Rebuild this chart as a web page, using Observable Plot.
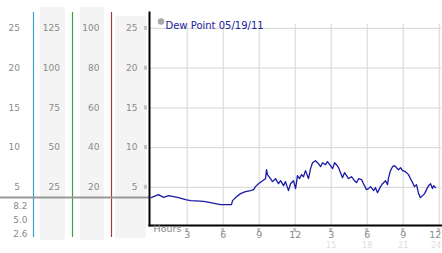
<!DOCTYPE html>
<html>
<head>
<meta charset="utf-8">
<script src="https://cdn.jsdelivr.net/npm/d3@7"></script>
<script src="https://cdn.jsdelivr.net/npm/@observablehq/plot@0.6"></script>
<style>
  html, body { margin: 0; padding: 0; background: #fff; }
  #chart svg { display: block; }
</style>
</head>
<body>
<div id="chart"></div>
<script>
// ---- data ----
const hours = [0, 0.61, 1.03, 1.44, 2.28, 2.86, 3.28, 4.11, 4.53, 4.94, 5.36, 5.78, 6.19, 6.69, 6.78, 7.03, 7.44, 7.86, 8.28, 8.53, 8.69, 8.94, 9.28, 9.53, 9.61, 9.69, 9.94, 10.11, 10.36, 10.61, 10.78, 11.03, 11.19, 11.44, 11.61, 11.86, 12.03, 12.19, 12.36, 12.53, 12.69, 12.86, 13.11, 13.28, 13.44, 13.69, 13.94, 14.11, 14.28, 14.53, 14.69, 14.94, 15.11, 15.28, 15.44, 15.61, 15.78, 15.94, 16.11, 16.28, 16.44, 16.69, 16.94, 17.11, 17.28, 17.53, 17.69, 17.94, 18.11, 18.28, 18.53, 18.69, 18.86, 19.11, 19.28, 19.53, 19.69, 19.78, 19.94, 20.11, 20.28, 20.44, 20.61, 20.78, 20.94, 21.19, 21.44, 21.61, 21.78, 21.94, 22.11, 22.28, 22.44, 22.61, 22.78, 22.94, 23.11, 23.28, 23.44, 23.53, 23.69];
const dewPoint = [3.7, 4.08, 3.74, 3.96, 3.71, 3.45, 3.33, 3.27, 3.2, 3.08, 2.95, 2.83, 2.83, 2.83, 3.33, 3.71, 4.21, 4.46, 4.59, 4.71, 5.09, 5.46, 5.84, 6.09, 7.22, 6.6, 6.09, 5.72, 6.09, 5.46, 5.84, 5.21, 5.72, 4.59, 5.46, 5.84, 4.84, 6.47, 6.09, 6.6, 6.34, 7.1, 6.09, 7.35, 8.1, 8.35, 7.98, 7.6, 8.1, 7.85, 8.23, 7.73, 7.35, 8.1, 7.85, 7.47, 6.85, 6.22, 6.85, 6.47, 6.09, 6.34, 5.84, 5.59, 6.09, 5.97, 5.46, 4.71, 4.84, 5.09, 4.59, 4.96, 4.33, 5.09, 5.46, 5.84, 5.34, 6.22, 7.1, 7.6, 7.73, 7.47, 7.22, 7.47, 7.1, 6.97, 6.6, 6.09, 5.59, 5.09, 5.34, 4.21, 3.71, 3.96, 4.21, 4.71, 5.21, 5.46, 4.84, 5.21, 4.96];

const yTicks = [25, 20, 15, 10, 5];
const col1Labels = ["25", "20", "15", "10", "5"];
const col1Extra = ["8.2", "5.0", "2.6"];
const col2Labels = ["125", "100", "75", "50", "25"];
const col3Labels = ["100", "80", "60", "40", "20"];
const col4Labels = ["25", "20", "15", "10", "5"];
const markerValue = 3.7;

const xTicks = [3, 6, 9, 12, 15, 18, 21, 24];
const xTickLabels = ["3", "6", "9", "12", "3", "6", "9", "12"];
const xTicks2 = [15, 18, 21, 24];
const xTickLabels2 = ["15", "18", "21", "24"];
const seriesName = "Dew Point 05/19/11";

const data = hours.map((h, i) => ({h, v: dewPoint[i]}));

const FONT = "DejaVu Sans, Verdana, sans-serif";
const LABEL = "#8a8a8a";

// left-side scale panels drawn via the y scale
function leftPanels(index, scales, values, dims) {
  const y = scales.y;
  const g = d3.create("svg:g").attr("font-family", FONT).attr("font-size", 9);
  [[40, 7, 25, 233], [80, 7, 24, 233], [115, 16, 31, 222]].forEach(([x, yy, w, h]) =>
    g.append("rect").attr("x", x).attr("y", yy).attr("width", w).attr("height", h).attr("fill", "#f4f4f4"));
  [[33.5, "#3ba3c6"], [72.5, "#3f9f3f"], [111.5, "#a83a3a"]].forEach(([x, c]) =>
    g.append("line").attr("x1", x).attr("x2", x).attr("y1", 12).attr("y2", 237).attr("stroke", c).attr("stroke-width", 1.2));
  const my = Math.round(y(markerValue)) + 0.5;
  g.append("line").attr("x1", 0).attr("x2", 149).attr("y1", my).attr("y2", my)
    .attr("stroke", "#999").attr("stroke-width", 2);
  const cols = [[20, col1Labels], [60, col2Labels], [99.5, col3Labels], [137.5, col4Labels]];
  cols.forEach(([x, labs]) => {
    yTicks.forEach((t, i) => {
      g.append("text").attr("x", x).attr("y", y(t)).attr("dy", "0.35em")
        .attr("text-anchor", "end").attr("fill", LABEL).text(labs[i]);
    });
  });
  col1Extra.forEach((s, i) => {
    g.append("text").attr("x", 27.5).attr("y", my + 8 + i * 14).attr("dy", "0.35em")
      .attr("text-anchor", "end").attr("fill", LABEL).text(s);
  });
  yTicks.forEach(t => {
    g.append("rect").attr("x", 144).attr("y", y(t) - 2).attr("width", 3).attr("height", 4)
      .attr("fill", "#c4c4c4");
  });
  xTicks.forEach(t => {
    g.append("rect").attr("x", scales.x(t) - 1.5).attr("y", 228).attr("width", 3).attr("height", 4)
      .attr("fill", "#c4c4c4");
  });
  return g.node();
}

const lastTick = xTicks.length - 1;
const lastTick2 = xTicks2.length - 1;

const chart = Plot.plot({
  width: 442,
  height: 253,
  marginLeft: 149,
  marginRight: 1,
  marginTop: 12,
  marginBottom: 28,
  style: {fontFamily: FONT, fontSize: "9px", background: "#fff"},
  x: {domain: [-0.14, 24.19], axis: null},
  y: {domain: [0.2, 27], axis: null},
  marks: [
    leftPanels,
    Plot.ruleY(yTicks, {stroke: "#dcdcdc", strokeWidth: 1.2}),
    Plot.ruleX(xTicks, {y1: 0.2, y2: 25.5, stroke: "#dcdcdc", strokeWidth: 1.2}),
    Plot.line(data, {x: "h", y: "v", stroke: "#1a1aa6", strokeWidth: 1.3}),
    Plot.frame({anchor: "left", stroke: "#000", strokeWidth: 2}),
    Plot.frame({anchor: "bottom", stroke: "#000", strokeWidth: 2}),
    Plot.text(xTicks.slice(0, lastTick), {x: d => d, text: (d, i) => xTickLabels[i], frameAnchor: "bottom", dy: 12, fill: LABEL, fontSize: 9.5}),
    Plot.text([xTicks[lastTick]], {x: d => d, text: [xTickLabels[lastTick]], frameAnchor: "bottom", dy: 12, dx: 2, textAnchor: "end", fill: LABEL, fontSize: 9.5}),
    Plot.text(xTicks2.slice(0, lastTick2), {x: d => d, text: (d, i) => xTickLabels2[i], frameAnchor: "bottom", dy: 22.5, fill: "#dedede", fontSize: 8}),
    Plot.text([xTicks2[lastTick2]], {x: d => d, text: [xTickLabels2[lastTick2]], frameAnchor: "bottom", dy: 22.5, dx: 2, textAnchor: "end", fill: "#dedede", fontSize: 8}),
    Plot.text(["Hours"], {frameAnchor: "bottom-left", dx: 4, dy: 6.5, textAnchor: "start", fill: LABEL, fontSize: 9.5}),
    Plot.dot([seriesName], {frameAnchor: "top-left", dx: 11.5, dy: 9, r: 3, fill: "#aaa", stroke: "#999", strokeWidth: 0.5}),
    Plot.text([seriesName], {frameAnchor: "top-left", dx: 16, dy: 9, textAnchor: "start", fill: "#22229c", fontSize: 10})
  ]
});
document.getElementById("chart").appendChild(chart);
</script>
</body>
</html>
